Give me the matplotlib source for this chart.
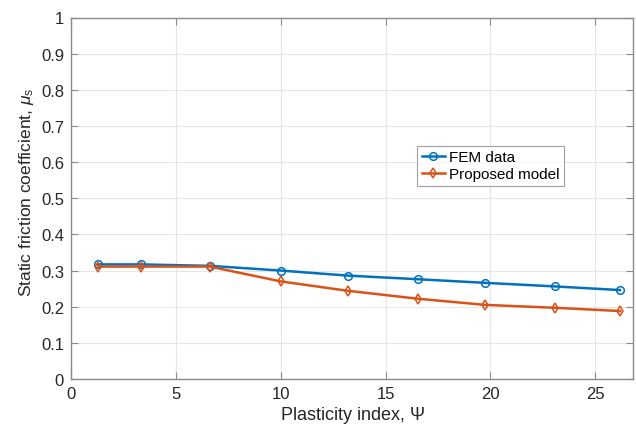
import numpy as np
import matplotlib
matplotlib.use("Agg")
import matplotlib.pyplot as plt

plt.rcParams['font.family'] = ['Liberation Sans', 'DejaVu Sans']
plt.rcParams['mathtext.fontset'] = 'custom'
plt.rcParams['mathtext.rm'] = 'Liberation Sans'
plt.rcParams['mathtext.it'] = 'Liberation Sans:italic'

# plasticity index and friction coefficients
psi = [1.3, 3.33, 6.62, 10.0, 13.2, 16.55, 19.75, 23.1, 26.18]
mu_fem = [0.317, 0.317, 0.313, 0.300, 0.286, 0.276, 0.266, 0.256, 0.246]
mu_model = [0.311, 0.311, 0.311, 0.270, 0.244, 0.222, 0.205, 0.197, 0.188]

x_ticks = [0, 5, 10, 15, 20, 25]
y_ticks = np.round(np.arange(0, 1.01, 0.1), 1)
y_tick_labels = ['0'] + ['%.1f' % v for v in y_ticks[1:-1]] + ['1']

blue = '#0072BD'
orange = '#D95319'

fig = plt.figure(figsize=(6.36, 4.27), dpi=100)
ax = fig.add_axes([71/636, 47/427, 562/636, 361.5/427])

ax.plot(psi, mu_fem, color=blue, lw=1.8, marker='o', ms=5.5,
        mfc='none', mew=1.1, label='FEM data')
ax.plot(psi, mu_model, color=orange, lw=1.8, marker='d', ms=5.5,
        mfc='none', mew=1.1, label='Proposed model')

ax.set_xlim(0, 26.8)
ax.set_ylim(0, 1)
ax.set_xticks(x_ticks)
ax.set_yticks(y_ticks)
ax.set_yticklabels(y_tick_labels)

ax.grid(True, color='#e6e6e6', lw=0.8)
ax.set_axisbelow(True)
for s in ax.spines.values():
    s.set_color('#8a8a8a')
    s.set_linewidth(1.0)
ax.tick_params(direction='in', length=5, width=0.8, color='#8a8a8a',
               top=True, right=True, labelsize=12, labelcolor='#262626', pad=5)

ax.set_xlabel(r'Plasticity index, $\Psi$', fontsize=13, color='#262626', labelpad=2)
ax.set_ylabel(r'Static friction coefficient, $\mu_{\rm s}$', fontsize=12.5,
              color='#262626', labelpad=2)
ax.yaxis.set_label_coords(-0.062, 0.52)

leg = ax.legend(loc='upper left', bbox_to_anchor=(0.616, 0.645), fontsize=11,
                frameon=True, fancybox=False, borderpad=0.3, handlelength=1.5,
                handletextpad=0.3, labelspacing=0.2, borderaxespad=0)
leg.get_frame().set_edgecolor('#8a8a8a')
leg.get_frame().set_linewidth(0.8)

fig.savefig('out.png', dpi=100)
